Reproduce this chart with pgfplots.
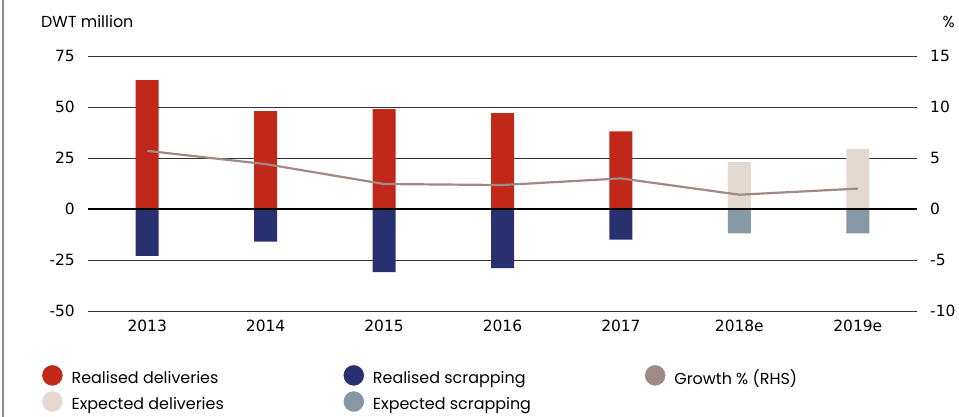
\documentclass[border=0pt]{standalone}
\usepackage{pgfplots}
\pgfplotsset{compat=1.18}
\usepackage{fontspec}
\setmainfont{Poppins}
\newfontfamily\tickfont{DejaVu Sans}
\definecolor{cRed}{HTML}{C0281A}
\definecolor{cNavy}{HTML}{28306F}
\definecolor{cBeige}{HTML}{E3D9D1}
\definecolor{cSlate}{HTML}{8698A4}
\definecolor{cLine}{HTML}{A08A85}
\begin{document}
\begin{tikzpicture}
\useasboundingbox (-88bp,-106bp) rectangle (871bp,311bp);
\draw[black!45, line width=1.5bp] (-85bp,-106bp) -- (-85bp,311bp);
\begin{axis}[
    at={(0,0)}, anchor=south west,
    scale only axis, width=829bp, height=255bp,
    xmin=-0.5, xmax=6.5, ymin=-50, ymax=75,
    ytick={-50,-25,0,25,50,75},
    xtick={0,1,2,3,4,5,6},
    xticklabels={2013,2014,2015,2016,2017,2018e,2019e},
    axis line style={draw=none},
    major tick length=0pt,
    ymajorgrids,
    grid style={black!80, line width=0.8bp},
    ticklabel style={font=\fontsize{15.5}{18}\tickfont, inner sep=0pt},
    yticklabel style={xshift=-13bp},
    xticklabel style={yshift=-9bp},
    /pgf/number format/assume math mode=true,
    ybar, bar width=23bp, bar shift=0pt,
    legend columns=3,
    legend cell align=left,
    legend style={draw=none, fill=none, inner sep=0pt,
        at={(0,0)}, anchor=north west, xshift=-46bp, yshift=-54bp,
        font=\fontsize{16}{19}\selectfont, row sep=3bp},
]
\addlegendimage{legend image code/.code={\fill[cRed] (10bp,0.5ex) circle (10bp);}}
\addlegendentry{\hspace*{7bp}\makebox[270bp][l]{Realised deliveries}}
\addlegendimage{legend image code/.code={\fill[cNavy] (10bp,0.5ex) circle (10bp);}}
\addlegendentry{\hspace*{7bp}\makebox[270bp][l]{Realised scrapping}}
\addlegendimage{legend image code/.code={\fill[cLine] (10bp,0.5ex) circle (10bp);}}
\addlegendentry{\hspace*{7bp}Growth \% (RHS)}
\addlegendimage{legend image code/.code={\fill[cBeige] (10bp,0.5ex) circle (10bp);}}
\addlegendentry{\hspace*{7bp}Expected deliveries}
\addlegendimage{legend image code/.code={\fill[cSlate] (10bp,0.5ex) circle (10bp);}}
\addlegendentry{\hspace*{7bp}Expected scrapping}

\addplot[fill=cRed, draw=none, forget plot] coordinates {(0,63.2) (1,48) (2,49) (3,47) (4,38)};
\addplot[fill=cNavy, draw=none, forget plot] coordinates {(0,-23) (1,-16) (2,-31) (3,-29) (4,-15)};
\addplot[fill=cBeige, draw=none, forget plot] coordinates {(5,23) (6,29.5)};
\addplot[fill=cSlate, draw=none, forget plot] coordinates {(5,-12) (6,-12)};
\draw[black, line width=1.6bp] (axis cs:-0.5,0) -- (axis cs:6.5,0);
\end{axis}
\begin{axis}[
    at={(0,0)}, anchor=south west,
    scale only axis, width=829bp, height=255bp,
    xmin=-0.5, xmax=6.5, ymin=-10, ymax=15,
    ytick={-10,-5,0,5,10,15},
    axis x line=none, axis y line*=right,
    axis line style={draw=none},
    major tick length=0pt,
    ticklabel style={font=\fontsize{15.5}{18}\tickfont, inner sep=0pt},
    yticklabel style={xshift=13bp},
    /pgf/number format/assume math mode=true,
]
\addplot[cLine, line width=2.2bp] coordinates {(0,5.7) (1,4.4) (2,2.45) (3,2.35) (4,3.0) (5,1.4) (6,2.0)};
\end{axis}
\node[anchor=west, inner sep=0pt, font=\fontsize{16}{19}\selectfont] at (-47bp,289bp) {DWT million};
\node[anchor=east, inner sep=0pt, font=\fontsize{16}{19}\selectfont] at (867bp,289bp) {\%};
\end{tikzpicture}
\end{document}
